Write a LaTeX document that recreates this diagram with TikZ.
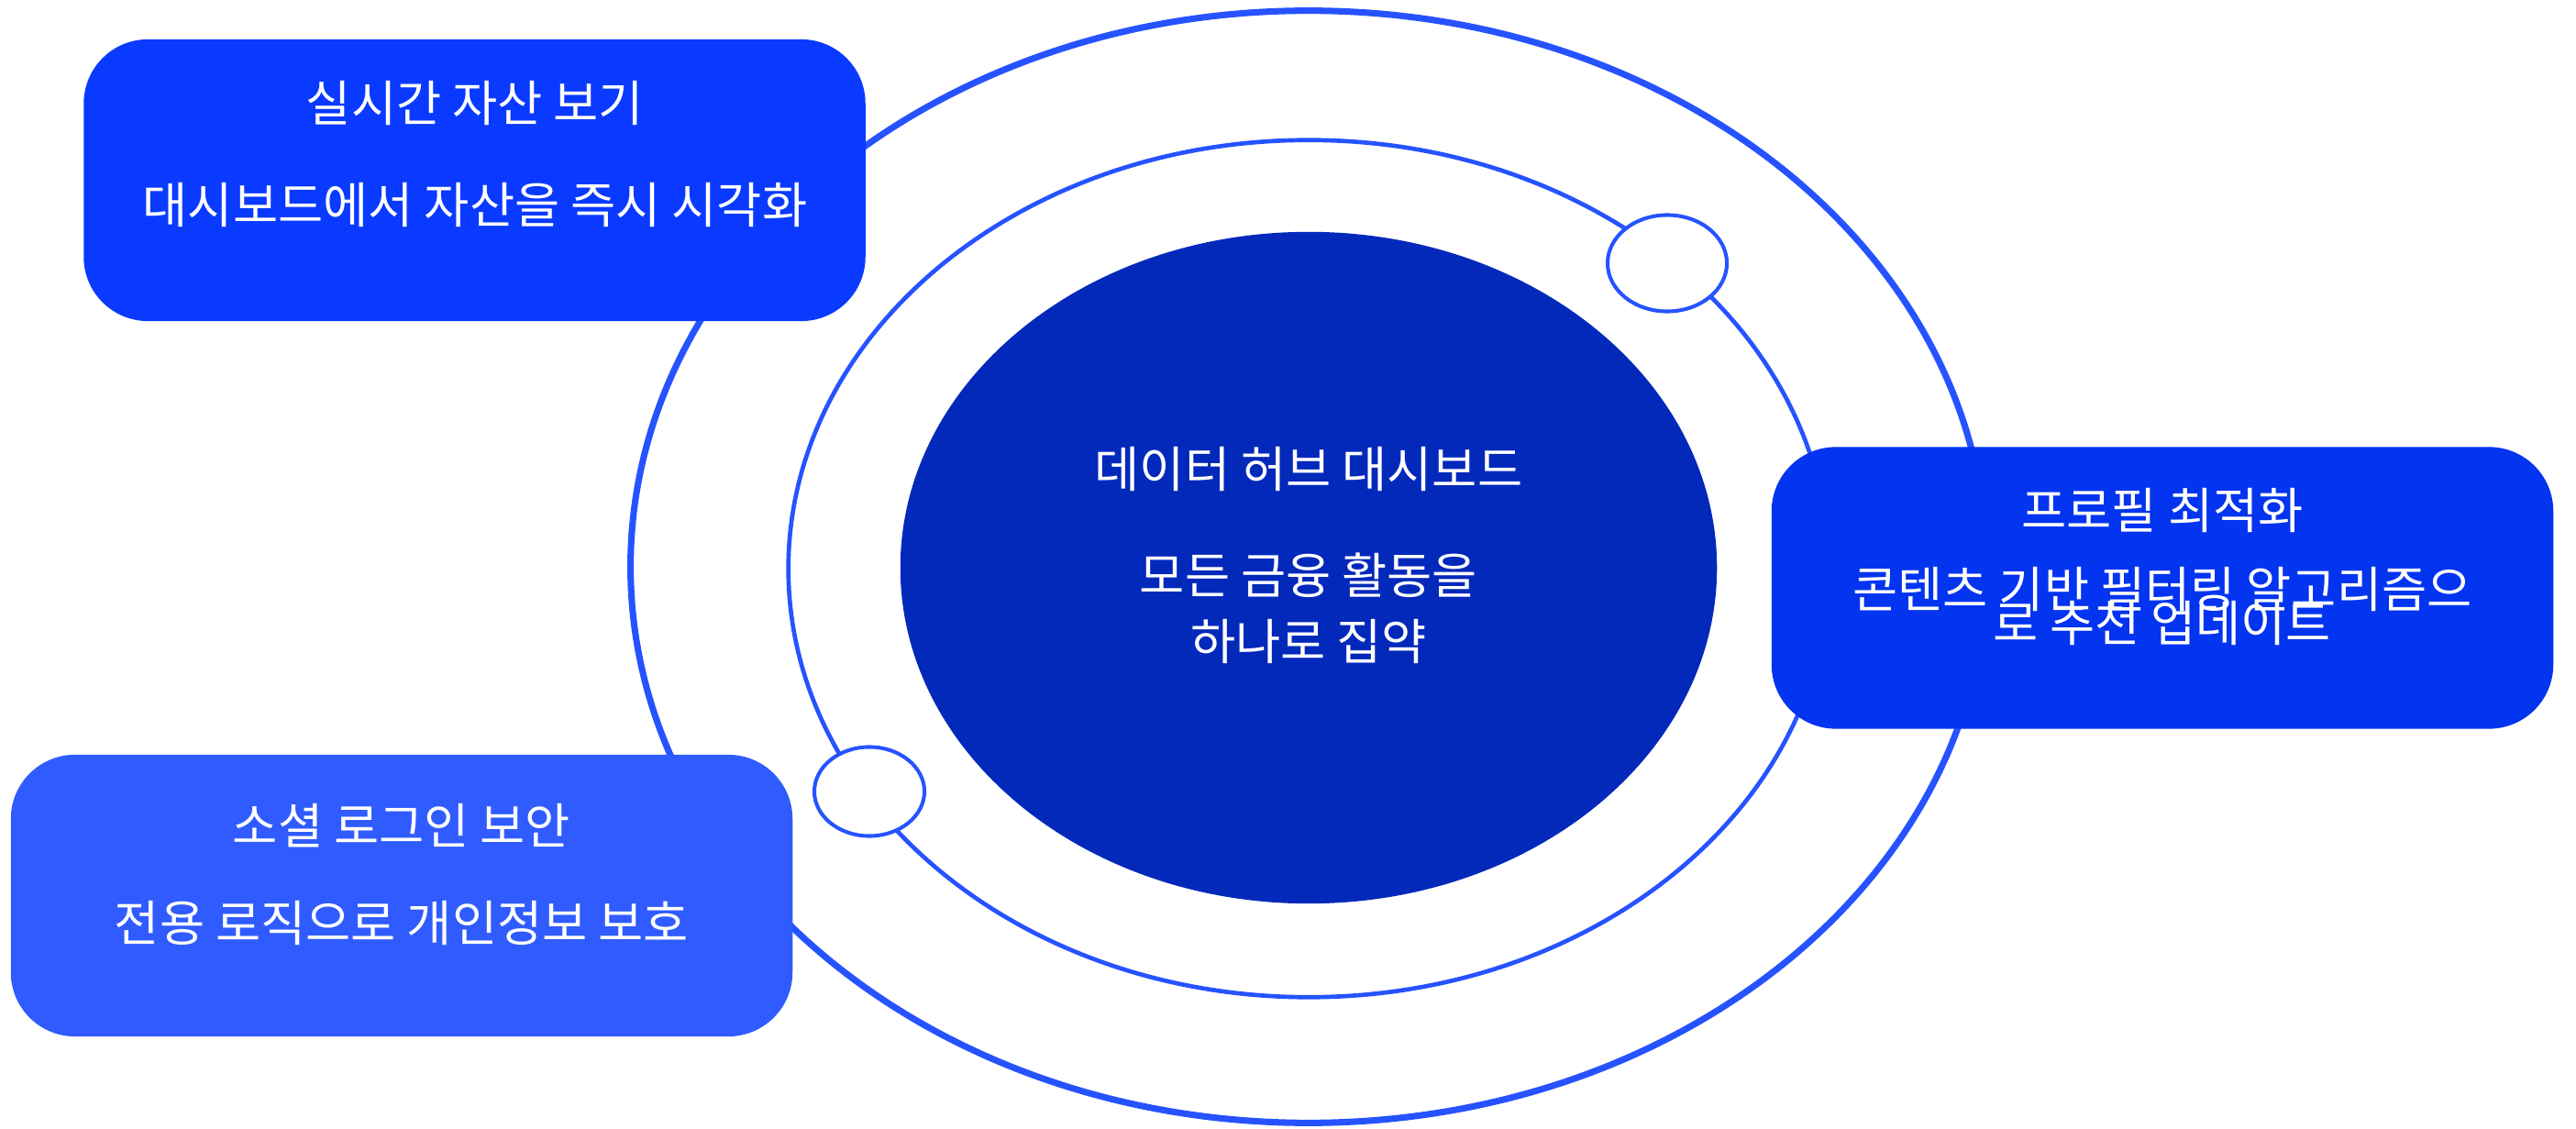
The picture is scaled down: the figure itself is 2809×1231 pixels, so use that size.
\documentclass[tikz,border=0pt]{standalone}
\usepackage{fontspec}
\setmainfont{Noto Sans CJK KR}
\usetikzlibrary{shapes.geometric}
\definecolor{ringblue}{RGB}{38,83,255}
\definecolor{hubblue}{RGB}{3,41,187}
\definecolor{boxa}{RGB}{10,58,255}
\definecolor{boxb}{RGB}{3,52,240}
\definecolor{boxc}{RGB}{48,92,255}
\begin{document}
\begin{tikzpicture}[x=0.01cm,y=-0.01cm,
  ring/.style={ellipse, draw=ringblue, fill=none, inner sep=0pt},
  knot/.style={ellipse, draw=ringblue, fill=white, line width=1.15pt, inner sep=0pt},
  panel/.style={rectangle, rounded corners=0.7cm, inner sep=0pt, minimum width=8.52cm, minimum height=3.07cm},
  txt/.style={text=white, inner sep=0pt, align=center, font={\fontsize{15.2pt}{18pt}\selectfont}}]
\useasboundingbox (0,0) rectangle (2809,1231);
% rings
\node[ring, line width=2pt, minimum width=14.78cm, minimum height=12.12cm] (outer) at (1427,618) {};
\node[ring, line width=1.33pt, minimum width=11.34cm, minimum height=9.34cm] (middle) at (1427,620) {};
% small circles on the middle ring
\node[knot, minimum width=1.3cm, minimum height=1.05cm] (knotA) at (1818,287) {};
\node[knot, minimum width=1.2cm, minimum height=0.97cm] (knotB) at (948,863) {};
% hub
\node[ellipse, fill=hubblue, inner sep=0pt, minimum width=8.9cm, minimum height=7.32cm] (hub) at (1427,619) {};
\node[txt] (hubtitle) at (1427,512) {데이터 허브 대시보드};
\node[txt, font={\fontsize{15.2pt}{20.5pt}\selectfont}] (hubdesc) at (1427,663) {모든 금융 활동을\\하나로 집약};
% panels
\node[panel, fill=boxa] (boxA) at (517.5,196.5) {};
\node[txt] (titleA) at (518,113) {실시간 자산 보기};
\node[txt] (descA) at (518,224) {대시보드에서 자산을 즉시 시각화};

\node[panel, fill=boxb] (boxB) at (2358,641) {};
\node[txt] (titleB) at (2358,557) {프로필 최적화};
\node[txt, font={\fontsize{15.2pt}{10.5pt}\selectfont\lineskiplimit=-100pt}] (descB) at (2358,661) {콘텐츠 기반 필터링 알고리즘으\\로 추천 업데이트};

\node[panel, fill=boxc] (boxC) at (438,976.5) {};
\node[txt] (titleC) at (438,900) {소셜 로그인 보안};
\node[txt] (descC) at (438,1006) {전용 로직으로 개인정보 보호};
\end{tikzpicture}
\end{document}
